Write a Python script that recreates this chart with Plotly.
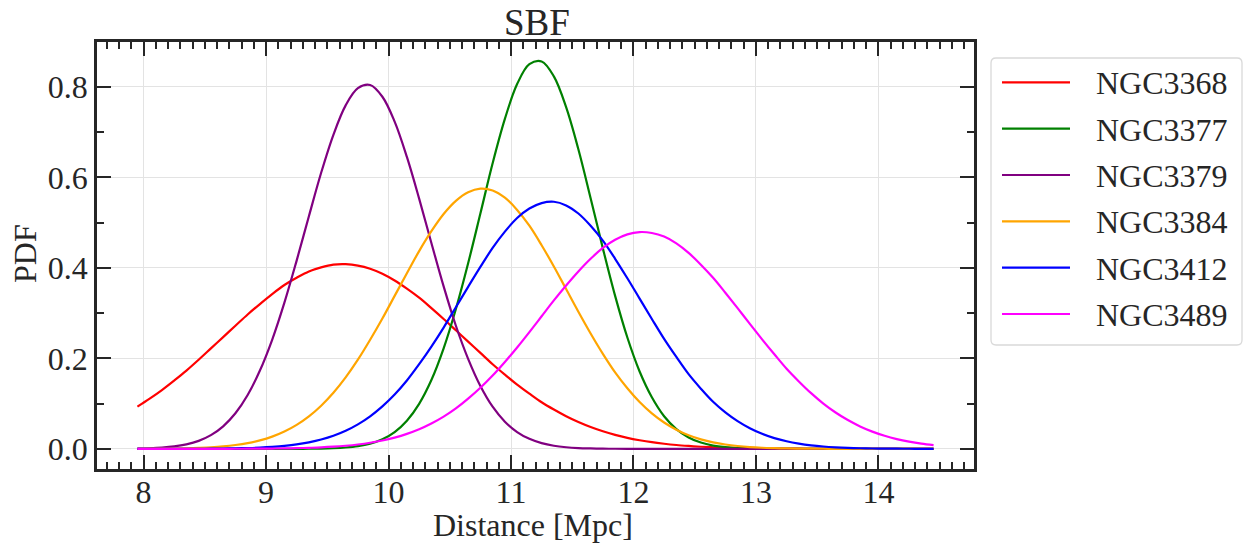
import plotly.graph_objects as go

# Sampled distance grid [Mpc]
distance = [
    7.95, 8.05, 8.15, 8.25, 8.35, 8.45, 8.55, 8.65, 8.75, 8.85,
    8.95, 9.05, 9.15, 9.25, 9.35, 9.45, 9.55, 9.65, 9.75, 9.85,
    9.95, 10.05, 10.15, 10.25, 10.35, 10.45, 10.55, 10.65, 10.75, 10.85,
    10.95, 11.05, 11.15, 11.25, 11.35, 11.45, 11.55, 11.65, 11.75, 11.85,
    11.95, 12.05, 12.15, 12.25, 12.35, 12.45, 12.55, 12.65, 12.75, 12.85,
    12.95, 13.05, 13.15, 13.25, 13.35, 13.45, 13.55, 13.65, 13.75, 13.85,
    13.95, 14.05, 14.15, 14.25, 14.35, 14.45,
]

# SBF distance PDFs per galaxy
pdf_ngc3368 = [
    0.0933, 0.111, 0.130, 0.151, 0.173, 0.197, 0.222, 0.247, 0.272, 0.297,
    0.320, 0.342, 0.362, 0.378, 0.392, 0.401, 0.407, 0.408, 0.405, 0.398,
    0.387, 0.372, 0.354, 0.334, 0.311, 0.287, 0.262, 0.237, 0.212, 0.187,
    0.164, 0.142, 0.122, 0.103, 0.0869, 0.0722, 0.0594, 0.0483, 0.0389, 0.0310,
    0.0244, 0.0191, 0.0147, 0.0113, 0.0085, 0.0064, 0.0047, 0.0035, 0.0025, 0.0018,
    0.0013, 0.0009, 0.0006, 0.0004, 0.0003, 0.0002, 0.0001, 0.0001, 0.0001, 0.0,
    0.0, 0.0, 0.0, 0.0, 0.0, 0.0,
]
pdf_ngc3377 = [
    0.0, 0.0, 0.0, 0.0, 0.0, 0.0, 0.0, 0.0, 0.0, 0.0,
    0.0, 0.0, 0.0, 0.0001, 0.0003, 0.0006, 0.0014, 0.0030, 0.0060, 0.0115,
    0.0212, 0.0372, 0.0623, 0.0995, 0.152, 0.222, 0.309, 0.410, 0.520, 0.631,
    0.729, 0.806, 0.850, 0.856, 0.823, 0.755, 0.662, 0.554, 0.443, 0.338,
    0.246, 0.171, 0.114, 0.0721, 0.0437, 0.0253, 0.0139, 0.0073, 0.0037, 0.0018,
    0.0008, 0.0004, 0.0001, 0.0, 0.0, 0.0, 0.0, 0.0, 0.0, 0.0,
    0.0, 0.0, 0.0, 0.0, 0.0, 0.0,
]
pdf_ngc3379 = [
    0.0007, 0.0014, 0.0028, 0.0054, 0.0100, 0.0177, 0.0303, 0.0498, 0.0786, 0.119,
    0.173, 0.241, 0.323, 0.416, 0.514, 0.610, 0.694, 0.759, 0.797, 0.804,
    0.778, 0.723, 0.645, 0.553, 0.455, 0.359, 0.272, 0.199, 0.139, 0.0932,
    0.0601, 0.0372, 0.0221, 0.0126, 0.0069, 0.0036, 0.0018, 0.0009, 0.0004, 0.0002,
    0.0001, 0.0, 0.0, 0.0, 0.0, 0.0, 0.0, 0.0, 0.0, 0.0,
    0.0, 0.0, 0.0, 0.0, 0.0, 0.0, 0.0, 0.0, 0.0, 0.0,
    0.0, 0.0, 0.0, 0.0, 0.0, 0.0,
]
pdf_ngc3384 = [
    0.0002, 0.0003, 0.0005, 0.0008, 0.0013, 0.0022, 0.0035, 0.0055, 0.0085, 0.0127,
    0.0188, 0.0271, 0.0383, 0.0530, 0.0718, 0.0954, 0.124, 0.158, 0.197, 0.241,
    0.288, 0.338, 0.388, 0.437, 0.481, 0.519, 0.548, 0.567, 0.575, 0.571,
    0.555, 0.528, 0.493, 0.450, 0.403, 0.353, 0.303, 0.255, 0.210, 0.169,
    0.134, 0.1035, 0.0784, 0.0582, 0.0423, 0.0301, 0.0210, 0.0143, 0.0096, 0.0063,
    0.0040, 0.0025, 0.0016, 0.0009, 0.0006, 0.0003, 0.0002, 0.0001, 0.0001, 0.0,
    0.0, 0.0, 0.0, 0.0, 0.0, 0.0,
]
pdf_ngc3412 = [
    0.0, 0.0, 0.0, 0.0001, 0.0001, 0.0002, 0.0004, 0.0007, 0.0011, 0.0018,
    0.0028, 0.0044, 0.0066, 0.0098, 0.0144, 0.0206, 0.0289, 0.0400, 0.0542, 0.0720,
    0.0939, 0.120, 0.151, 0.187, 0.226, 0.268, 0.313, 0.358, 0.402, 0.444,
    0.480, 0.510, 0.531, 0.543, 0.546, 0.538, 0.520, 0.493, 0.460, 0.420,
    0.377, 0.332, 0.287, 0.243, 0.203, 0.165, 0.133, 0.104, 0.0806, 0.0612,
    0.0455, 0.0332, 0.0238, 0.0168, 0.0116, 0.0078, 0.0052, 0.0034, 0.0022, 0.0014,
    0.0008, 0.0005, 0.0003, 0.0002, 0.0001, 0.0001,
]
pdf_ngc3489 = [
    0.0, 0.0, 0.0, 0.0, 0.0, 0.0, 0.0001, 0.0001, 0.0002, 0.0003,
    0.0004, 0.0007, 0.0010, 0.0015, 0.0023, 0.0033, 0.0048, 0.0069, 0.0097, 0.0135,
    0.0184, 0.0249, 0.0331, 0.0433, 0.0560, 0.0712, 0.0894, 0.111, 0.135, 0.162,
    0.192, 0.224, 0.258, 0.293, 0.328, 0.361, 0.392, 0.420, 0.444, 0.462,
    0.474, 0.479, 0.477, 0.469, 0.454, 0.433, 0.407, 0.378, 0.345, 0.311,
    0.276, 0.242, 0.209, 0.177, 0.149, 0.123, 0.100, 0.0803, 0.0636, 0.0496,
    0.0381, 0.0289, 0.0216, 0.0159, 0.0115, 0.0082,
]

galaxies = ["NGC3368", "NGC3377", "NGC3379", "NGC3384", "NGC3412", "NGC3489"]
pdfs = [pdf_ngc3368, pdf_ngc3377, pdf_ngc3379, pdf_ngc3384, pdf_ngc3412, pdf_ngc3489]
colors = ["#ff0000", "#008000", "#800080", "#ffa500", "#0000ff", "#ff00ff"]

x_ticks = [8, 9, 10, 11, 12, 13, 14]
y_ticks = [0.0, 0.2, 0.4, 0.6, 0.8]
y_tick_text = ["0.0", "0.2", "0.4", "0.6", "0.8"]

W, H = 1247, 547
ML, MR, MT, MB = 97, 273, 42, 78
PW, PH = W - ML - MR, H - MT - MB
FONT = "Liberation Serif"
INK = "#262626"
FS = 32


def px_x(px):
    return (px - ML) / PW


def px_y(py):
    return (H - MB - py) / PH


fig = go.Figure()
for name, ys, c in zip(galaxies, pdfs, colors):
    fig.add_trace(go.Scatter(
        x=distance, y=ys, mode="lines", name=name,
        line=dict(color=c, width=2.2, shape="spline", smoothing=1.0),
        showlegend=False,
    ))

axis_common = dict(
    showline=True, linewidth=2.5, linecolor=INK, mirror="allticks",
    ticks="inside", ticklen=14, tickwidth=2.4, tickcolor=INK,
    showgrid=True, gridcolor="#e3e3e3", gridwidth=1, zeroline=False,
    tickfont=dict(family=FONT, size=FS, color=INK),
)

fig.update_xaxes(
    range=[7.62, 14.78], tickvals=x_ticks, ticklabelstandoff=-7,
    minor=dict(dtick=0.1, tick0=8, ticks="inside", ticklen=7, tickwidth=1.8,
               tickcolor=INK, showgrid=False),
    **axis_common,
)
fig.update_yaxes(
    range=[-0.0445, 0.899], tickvals=y_ticks, ticktext=y_tick_text,
    minor=dict(dtick=0.1, tick0=0, ticks="inside", ticklen=7, tickwidth=1.8,
               tickcolor=INK, showgrid=False),
    **axis_common,
)

annotations = [
    dict(text="SBF", x=px_x(537), y=px_y(0), xref="paper", yref="paper",
         xanchor="center", yanchor="top", showarrow=False,
         font=dict(family=FONT, size=37, color=INK)),
    dict(text="Distance [Mpc]", x=px_x(533), y=px_y(525), xref="paper", yref="paper",
         xanchor="center", yanchor="middle", showarrow=False,
         font=dict(family=FONT, size=FS, color=INK)),
    dict(text="PDF", x=px_x(25), y=px_y(254), xref="paper", yref="paper",
         xanchor="center", yanchor="middle", showarrow=False, textangle=-90,
         font=dict(family=FONT, size=FS, color=INK)),
]

# Legend box with rounded corners
bx0, bx1, by0, by1, r = 991, 1242, 58, 345, 5
rx, ry = r / PW, r / PH
X0, X1, Y0, Y1 = px_x(bx0), px_x(bx1), px_y(by0), px_y(by1)
path = (
    f"M {X0 + rx},{Y0} L {X1 - rx},{Y0} Q {X1},{Y0} {X1},{Y0 - ry} "
    f"L {X1},{Y1 + ry} Q {X1},{Y1} {X1 - rx},{Y1} "
    f"L {X0 + rx},{Y1} Q {X0},{Y1} {X0},{Y1 + ry} "
    f"L {X0},{Y0 - ry} Q {X0},{Y0} {X0 + rx},{Y0} Z"
)
shapes = [dict(type="path", path=path, xref="paper", yref="paper",
               line=dict(color="#d9d9d9", width=1.3), fillcolor="rgba(255,255,255,0.8)")]

row_y = [82.3, 128.7, 175.0, 221.3, 267.7, 314.0]
for name, c, ry_px in zip(galaxies, colors, row_y):
    shapes.append(dict(type="line", xref="paper", yref="paper",
                       x0=px_x(1002), x1=px_x(1070), y0=px_y(ry_px), y1=px_y(ry_px),
                       line=dict(color=c, width=2.2)))
    annotations.append(dict(text=name, x=px_x(1094), y=px_y(ry_px + 1), xref="paper", yref="paper",
                            xanchor="left", yanchor="middle", showarrow=False,
                            font=dict(family=FONT, size=FS, color=INK)))

fig.update_layout(
    width=W, height=H,
    margin=dict(l=ML, r=MR, t=MT, b=MB),
    paper_bgcolor="white", plot_bgcolor="white",
    annotations=annotations, shapes=shapes,
    showlegend=False,
)

fig.write_html("out.html")
